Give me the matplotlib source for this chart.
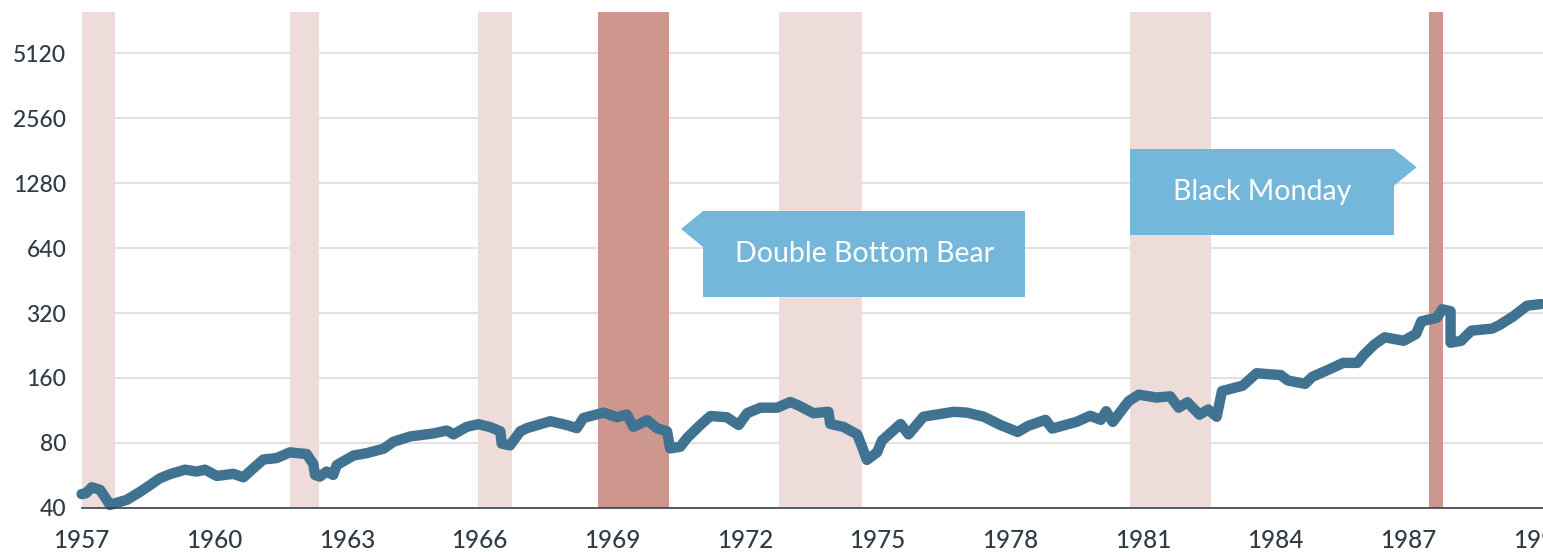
import matplotlib
matplotlib.use("Agg")
import matplotlib.pyplot as plt
from matplotlib.patches import Polygon

# index level (log2 scale)
years = [1957.0, 1957.1, 1957.23, 1957.42, 1957.57, 1957.64, 1957.76, 1958.02, 1958.32, 1958.55, 1958.77,
         1959.0, 1959.34, 1959.6, 1959.79, 1960.06, 1960.43, 1960.66, 1960.88, 1961.11, 1961.41,
         1961.71, 1962.09, 1962.24, 1962.28, 1962.39, 1962.54, 1962.69, 1962.77, 1963.15, 1963.45,
         1963.83, 1964.05, 1964.43, 1964.96, 1965.26, 1965.41, 1965.71, 1965.97, 1966.24, 1966.47,
         1966.5, 1966.69, 1966.92, 1967.07, 1967.6, 1967.97, 1968.2, 1968.35, 1968.8, 1969.11,
         1969.33, 1969.48, 1969.79, 1970.01, 1970.24, 1970.31, 1970.54, 1970.69, 1970.99, 1971.22,
         1971.59, 1971.86, 1972.05, 1972.35, 1972.73, 1973.03, 1973.25, 1973.55, 1973.89, 1973.93,
         1974.23, 1974.54, 1974.65, 1974.76, 1974.99, 1975.1, 1975.52, 1975.7, 1976.04, 1976.72,
         1977.02, 1977.4, 1977.78, 1978.17, 1978.41, 1978.8, 1978.95, 1979.5, 1979.81, 1980.05,
         1980.17, 1980.32, 1980.68, 1980.91, 1981.3, 1981.62, 1981.81, 1982.01, 1982.28, 1982.48,
         1982.67, 1982.79, 1983.26, 1983.57, 1984.12, 1984.28, 1984.67, 1984.83, 1985.22, 1985.53,
         1985.85, 1986.0, 1986.24, 1986.47, 1986.9, 1987.18, 1987.3, 1987.65, 1987.77, 1987.96,
         1987.96, 1988.2, 1988.43, 1988.9, 1989.06, 1989.37, 1989.69, 1990.0]
level = [46.4, 46.8, 49.9, 48.5, 43.6, 41.3, 42.1, 43.6, 47.5, 51.1, 54.9,
         57.4, 60.2, 59.0, 60.2, 56.3, 57.6, 55.5, 61.0, 67.1, 68.1,
         72.4, 71.1, 64.0, 56.9, 55.9, 59.0, 56.9, 63.2, 70.0, 71.8,
         75.3, 81.0, 85.8, 88.6, 91.4, 87.7, 95.0, 97.8, 94.8, 90.6,
         79.5, 78.0, 90.6, 93.7, 100.9, 96.9, 93.7, 104.5, 110.6, 105.3,
         108.5, 95.0, 102.0, 93.7, 90.6, 75.5, 76.9, 84.3, 96.9, 106.7,
         105.3, 96.9, 109.9, 116.6, 116.6, 123.9, 118.4, 109.9, 111.6, 98.0,
         95.0, 87.7, 76.9, 66.8, 72.4, 82.1, 98.0, 87.7, 105.9, 111.6,
         110.6, 105.9, 96.9, 90.0, 96.1, 102.4, 93.3, 100.2, 107.0, 102.4,
         112.3, 100.2, 125.1, 134.0, 129.9, 131.6, 116.6, 123.5, 108.2, 114.4,
         105.8, 139.2, 147.4, 168.3, 165.0, 155.8, 150.3, 161.9, 175.6, 188.0,
         188.0, 205.0, 229.0, 247.0, 238.0, 256.0, 293.0, 304.0, 333.0, 326.0,
         233.0, 238.0, 265.0, 271.0, 281.0, 308.0, 346.0, 352.0]

# shaded periods (start, end)
bear_light = [(1957.0, 1957.75), (1961.72, 1962.37), (1965.97, 1966.74),
              (1972.78, 1974.66), (1980.70, 1982.54)]
bear_dark = [(1968.68, 1970.29), (1987.48, 1987.78)]

yticks = [40, 80, 160, 320, 640, 1280, 2560, 5120]
xticks = list(range(1957, 1991, 3))

LINE = "#3f7391"
LIGHT = "#eddcd9"
DARK = "#cd978d"
CALLOUT = "#74b7db"
TXT = "#2f3b45"

fig = plt.figure(figsize=(15.43, 5.52), dpi=100)
ax = fig.add_axes([81.6 / 1543, 1 - 508 / 552, 1 - 81.6 / 1543, 496 / 552])

ax.set_yscale("log", base=2)
ax.set_ylim(40, 40 * 2 ** (496 / 65))
ax.set_xlim(1957, 1990.05)

for a, b in bear_light:
    ax.axvspan(a, b, color=LIGHT, lw=0, zorder=1)
for a, b in bear_dark:
    ax.axvspan(a, b, color=DARK, lw=0, zorder=1)

ax.plot(years, level, color=LINE, lw=7.5, solid_joinstyle="round",
        solid_capstyle="round", zorder=3, clip_on=False)

ax.set_yticks(yticks)
ax.set_yticklabels([str(t) for t in yticks])
ax.set_xticks(xticks)
ax.set_xticklabels([str(t) for t in xticks])
ax.minorticks_off()
ax.grid(axis="y", color="#e2e2e2", lw=1.5, zorder=0)
ax.set_axisbelow(True)
ax.tick_params(length=0, labelcolor=TXT)
ax.tick_params(axis="y", pad=11, labelsize=16.5)
ax.tick_params(axis="x", pad=15, labelsize=17.5)
for lab in ax.get_xticklabels() + ax.get_yticklabels():
    lab.set_family("Lato")
    lab.set_fontweight("medium")
for s in ["top", "right", "left"]:
    ax.spines[s].set_visible(False)
ax.spines["bottom"].set_color("#3a4148")
ax.spines["bottom"].set_linewidth(1.2)
ax.spines["bottom"].set_zorder(4)


def px(x, y):
    # figure pixel -> axes fraction
    return ((x - 81.6) / 1461.4, (508 - y) / 496)


def callout(box, tip, label, side):
    x0, y0, x1, y1 = box
    if side == "left":
        pts = [(x0, y0), tip, (x0, y0 + 2 * (tip[1] - y0)), (x0, y1), (x1, y1), (x1, y0)]
    else:
        pts = [(x0, y0), (x1, y0), tip, (x1, y0 + 2 * (tip[1] - y0)), (x1, y1), (x0, y1)]
    poly = Polygon([px(*p) for p in pts], closed=True, transform=ax.transAxes,
                   facecolor=CALLOUT, edgecolor="none", zorder=5, clip_on=False)
    ax.add_patch(poly)
    cx, cy = px((x0 + x1) / 2, (y0 + y1) / 2)
    ax.text(cx, cy, label, transform=ax.transAxes, ha="center", va="center",
            color="white", fontsize=20.5, family="Lato", zorder=6)


callout((703, 211, 1025, 297), (681, 229), "Double Bottom Bear", "left")
callout((1130, 149, 1394, 235), (1416.7, 167.3), "Black Monday", "right")

fig.savefig("out.png", dpi=100)
